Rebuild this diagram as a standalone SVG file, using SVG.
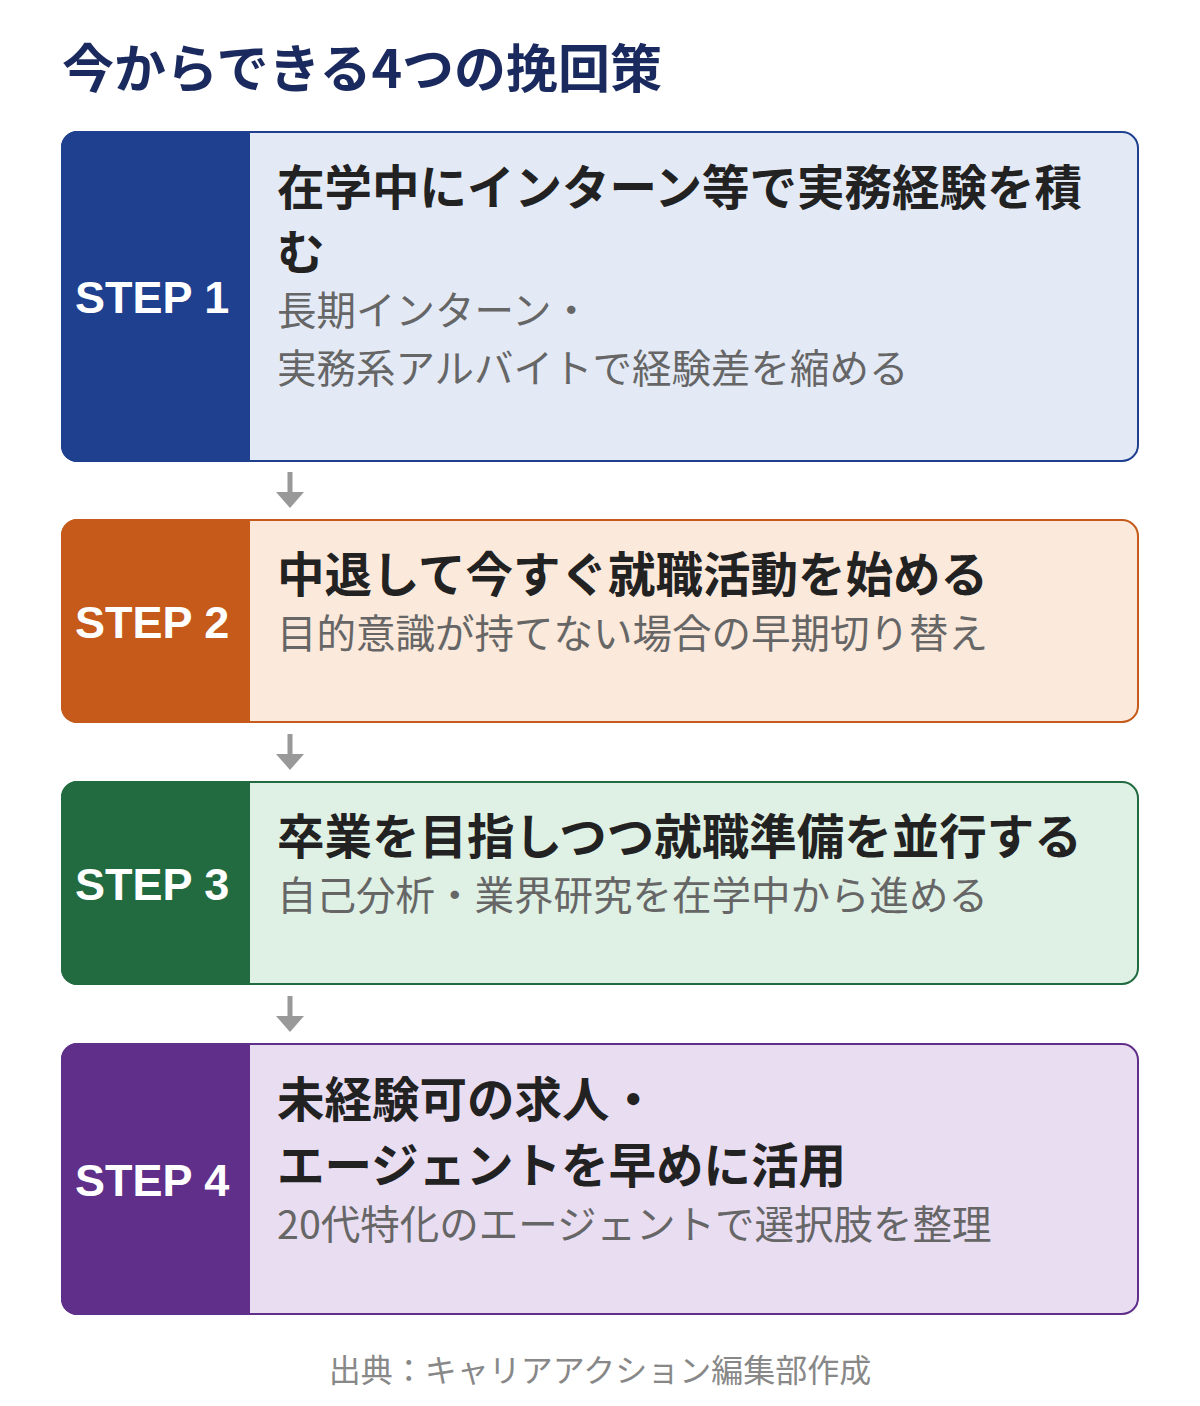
<svg xmlns="http://www.w3.org/2000/svg" width="1200" height="1406" viewBox="0 0 1200 1406">
<style>
text{font-family:"Noto Sans CJK JP","Noto Sans",sans-serif}
.title{font-size:52px;font-weight:700;fill:#1b2a5e}
.step{font-family:"Liberation Sans","Noto Sans CJK JP",sans-serif;font-size:45px;font-weight:700;fill:#ffffff}
.h{font-size:47.5px;font-weight:700;fill:#222222}
.s{font-size:39.5px;font-weight:400;fill:#666666}
.foot{font-size:32px;fill:#888888}
.arrow line{stroke:#999999;stroke-width:5}
.arrow path{fill:#999999}
</style>
<rect width="1200" height="1406" fill="#ffffff"/>
<text class="title" x="62" y="88">今からできる4つの挽回策</text>

<g id="step1">
<rect x="62" y="132" width="1076" height="329" rx="16" fill="#e3eaf6" stroke="#1f3f8f" stroke-width="2"/>
<path d="M77 131H250V462H77A16 16 0 0 1 61 446V147A16 16 0 0 1 77 131Z" fill="#1f3f8f"/>
<text class="step" x="75" y="313">STEP 1</text>
<text class="h" x="277" y="205">在学中にインターン等で実務経験を積</text>
<text class="h" x="277" y="270">む</text>
<text class="s" x="277" y="325">長期インターン・</text>
<text class="s" x="277" y="383">実務系アルバイトで経験差を縮める</text>
</g>

<g id="step2">
<rect x="62" y="520" width="1076" height="202" rx="16" fill="#fbe9db" stroke="#c55a1a" stroke-width="2"/>
<path d="M77 519H250V723H77A16 16 0 0 1 61 707V535A16 16 0 0 1 77 519Z" fill="#c55a1a"/>
<text class="step" x="75" y="638">STEP 2</text>
<text class="h" x="277" y="592">中退して今すぐ就職活動を始める</text>
<text class="s" x="277" y="648">目的意識が持てない場合の早期切り替え</text>
</g>

<g id="step3">
<rect x="62" y="782" width="1076" height="202" rx="16" fill="#dff0e4" stroke="#226b40" stroke-width="2"/>
<path d="M77 781H250V985H77A16 16 0 0 1 61 969V797A16 16 0 0 1 77 781Z" fill="#226b40"/>
<text class="step" x="75" y="900">STEP 3</text>
<text class="h" x="277" y="854">卒業を目指しつつ就職準備を並行する</text>
<text class="s" x="277" y="910">自己分析・業界研究を在学中から進める</text>
</g>

<g id="step4">
<rect x="62" y="1044" width="1076" height="270" rx="16" fill="#e9ddf2" stroke="#5f2f8a" stroke-width="2"/>
<path d="M77 1043H250V1315H77A16 16 0 0 1 61 1299V1059A16 16 0 0 1 77 1043Z" fill="#5f2f8a"/>
<text class="step" x="75" y="1196">STEP 4</text>
<text class="h" x="277" y="1117">未経験可の求人・</text>
<text class="h" x="277" y="1183">エージェントを早めに活用</text>
<text class="s" x="277" y="1239">20代特化のエージェントで選択肢を整理</text>
</g>

<g id="connectors" class="arrow">
<line x1="290" y1="472" x2="290" y2="494"/>
<path d="M276 492H304L290 508Z"/>
<line x1="290" y1="734" x2="290" y2="756"/>
<path d="M276 754H304L290 770Z"/>
<line x1="290" y1="996" x2="290" y2="1018"/>
<path d="M276 1016H304L290 1032Z"/>
</g>

<text class="foot" x="600" y="1382" text-anchor="middle">出典：キャリアアクション編集部作成</text>
</svg>
